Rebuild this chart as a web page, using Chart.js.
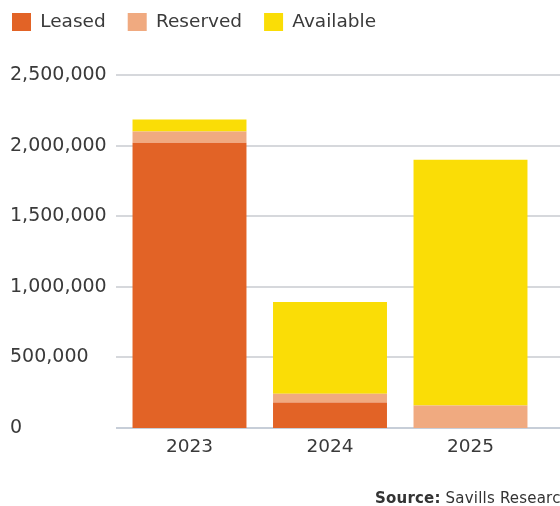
<!DOCTYPE html>
<html>
<head>
<meta charset="utf-8">
<script src="https://cdn.jsdelivr.net/npm/chart.js@4"></script>
<style>
  html, body { margin: 0; padding: 0; background: #fff; }
  #wrap { position: relative; width: 560px; height: 506px; overflow: hidden; }
  #c { position: absolute; left: 0; top: 0; }
  #src { position: absolute; left: 375px; top: 491px; font-family: "DejaVu Sans", sans-serif; font-size: 15px; letter-spacing: 0.2px; line-height: 1; color: #333; white-space: nowrap; }
  #src b { font-weight: bold; }
</style>
</head>
<body>
<div id="wrap">
  <canvas id="c" width="560" height="506"></canvas>
  <div id="src"><b>Source:</b> Savills Research</div>
</div>
<script>
const categories = ["2023", "2024", "2025"];
const leased = [2020000, 180000, 0];
const reserved = [80000, 62000, 160000];
const available = [85000, 650000, 1740000];
const yTicksMax = 2500000;
const yTickStep = 500000;

const FONT = "'DejaVu Sans', sans-serif";
const TEXT = "#3a3a3a";

const gridPlugin = {
  id: 'gridExt',
  beforeDatasetsDraw(chart) {
    const y = chart.scales.y;
    const ctx = chart.ctx;
    ctx.save();
    y.ticks.forEach(t => {
      const py = Math.round(y.getPixelForValue(t.value));
      ctx.strokeStyle = t.value === 0 ? '#c7ced8' : '#d6d8dc';
      ctx.lineWidth = 2;
      ctx.beginPath();
      ctx.moveTo(116, py);
      ctx.lineTo(chart.width, py);
      ctx.stroke();
    });
    ctx.restore();
  }
};

const legendTweak = {
  id: 'legendTweak',
  beforeLayout(chart) {
    const l = chart.legend;
    if (l && !l._wrapped) {
      const fit = l.fit;
      l.fit = function () { fit.call(this); this.height = 75; };
      l._wrapped = true;
    }
  },
  afterLayout(chart) {
    const l = chart.legend;
    if (l) { l.left = -10; l.top = -9.25; }
  }
};

new Chart(document.getElementById('c'), {
  type: 'bar',
  data: {
    labels: categories,
    datasets: [
      { label: 'Leased', data: leased, backgroundColor: '#E26326' },
      { label: 'Reserved', data: reserved, backgroundColor: '#F0AA80' },
      { label: 'Available', data: available, backgroundColor: '#FADD06' }
    ]
  },
  options: {
    responsive: false,
    animation: false,
    devicePixelRatio: 1,
    layout: { padding: { left: 10, right: 19.25, top: 0, bottom: 39.8 } },
    datasets: { bar: { barPercentage: 0.811, categoryPercentage: 1 } },
    plugins: {
      legend: {
        position: 'top',
        align: 'start',
        labels: {
          boxWidth: 19, boxHeight: 18, padding: 22,
          color: TEXT,
          font: { family: FONT, size: 18.5 }
        }
      },
      tooltip: { enabled: false }
    },
    scales: {
      x: {
        stacked: true,
        grid: { display: false, drawTicks: false },
        border: { display: false },
        ticks: { color: TEXT, padding: 8, font: { family: FONT, size: 18.5 } }
      },
      y: {
        stacked: true,
        min: 0,
        max: yTicksMax,
        grid: { display: false, drawTicks: false },
        border: { display: false },
        afterFit(scale) { scale.width = 109.25; },
        ticks: {
          stepSize: yTickStep,
          crossAlign: 'far',
          color: TEXT,
          font: { family: FONT, size: 19 },
          callback: v => Number(v).toLocaleString('en-US')
        }
      }
    }
  },
  plugins: [gridPlugin, legendTweak]
});
</script>
</body>
</html>
